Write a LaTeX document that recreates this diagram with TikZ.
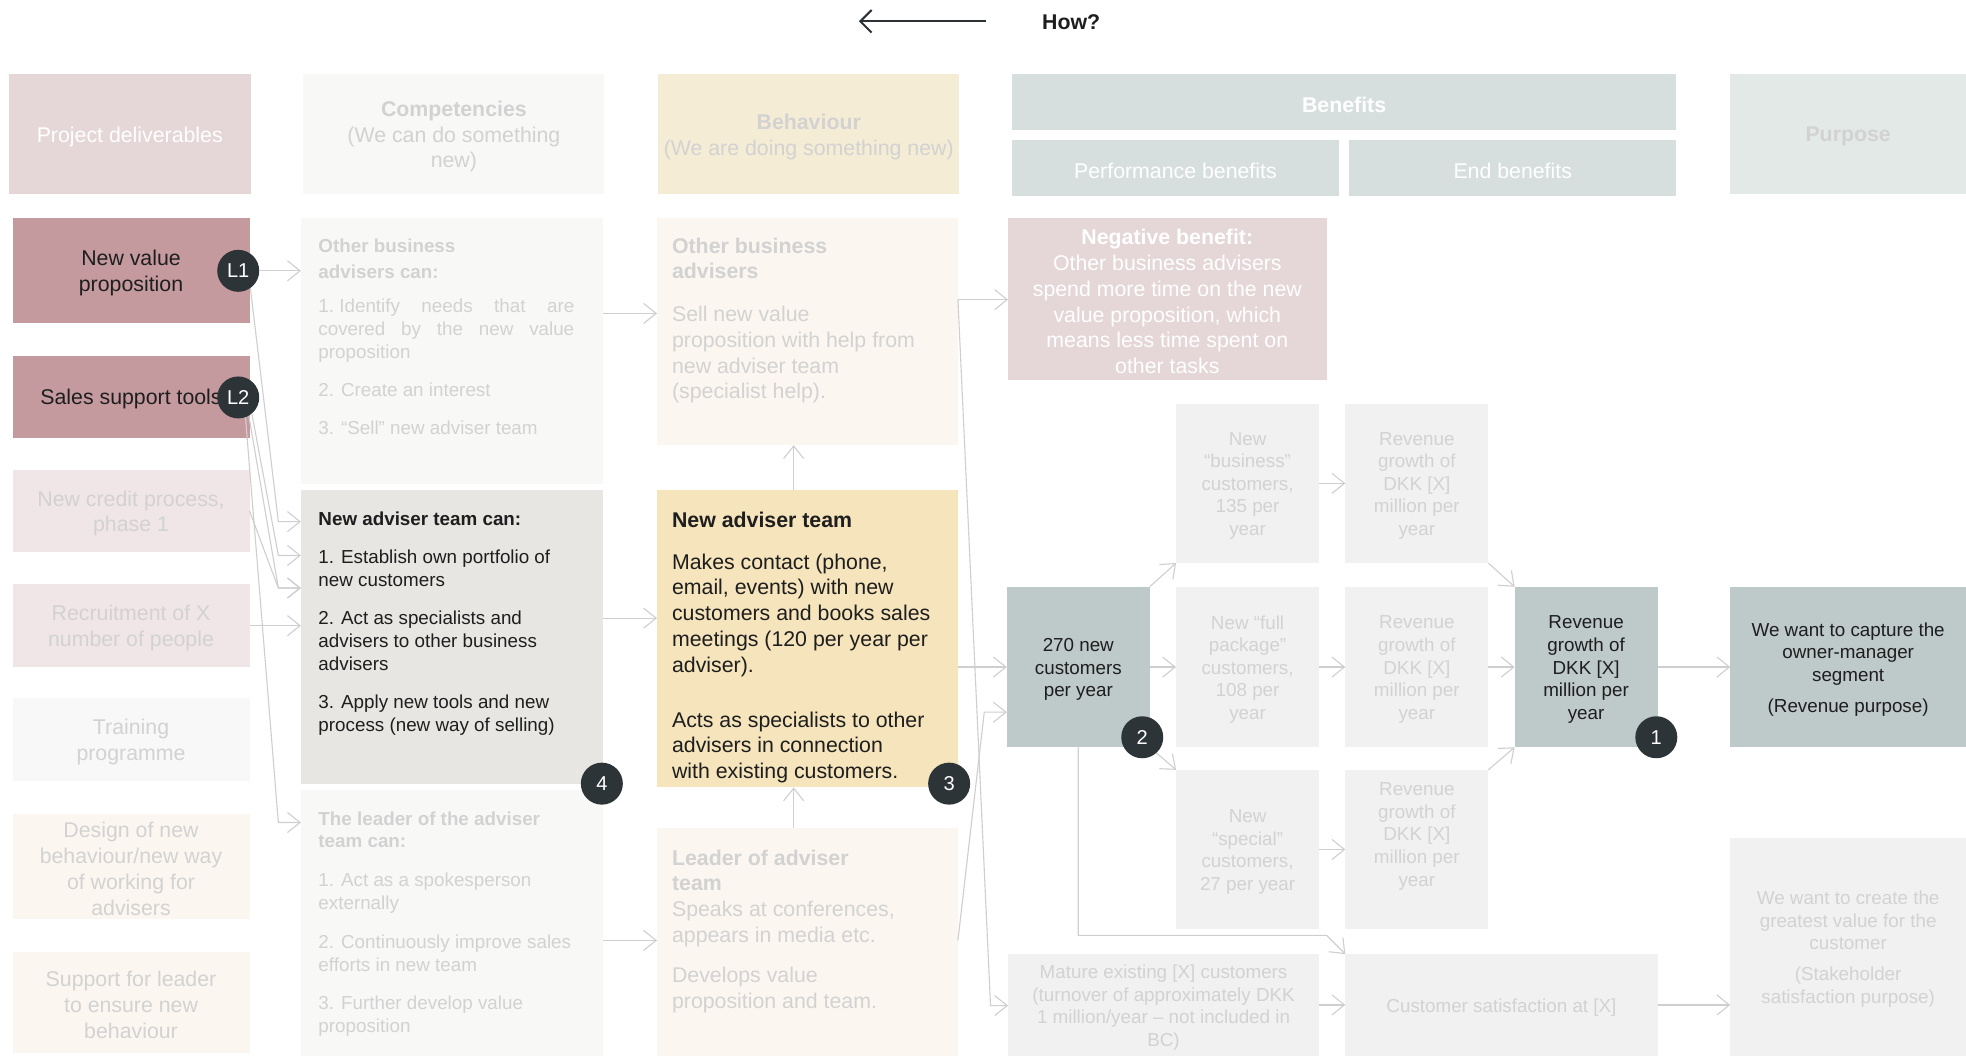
\documentclass[tikz,border=0pt]{standalone}
\usepackage{fontspec}
\setmainfont{Liberation Sans}
\usetikzlibrary{arrows.meta}
\definecolor{rose}{HTML}{C49A9E}
\definecolor{pinkhdr}{HTML}{E5D6D8}
\definecolor{pinklt}{HTML}{F0E6E7}
\definecolor{cream}{HTML}{FBF7F0}
\definecolor{yelhdr}{HTML}{F5ECD6}
\definecolor{yel}{HTML}{F5E4BC}
\definecolor{grydk}{HTML}{E8E6E3}
\definecolor{grylt}{HTML}{F8F8F7}
\definecolor{trng}{HTML}{F8F8F8}
\definecolor{benhdr}{HTML}{D7DEDE}
\definecolor{purhdr}{HTML}{E3E9E7}
\definecolor{tealbx}{HTML}{BEC9C9}
\definecolor{benlt}{HTML}{F0F1F0}
\definecolor{badgec}{HTML}{2D3438}
\definecolor{lineg}{HTML}{CFCFCF}
\definecolor{fade}{HTML}{D2D2D2}
\definecolor{ink}{HTML}{1E1E1E}
\definecolor{howc}{HTML}{2B3135}
\newcommand\fsBig{\fontsize{17}{20.5}\selectfont}
\newcommand\fsSm{\fontsize{15}{18.3}\selectfont}
\newcommand\fsBen{\fontsize{15}{18}\selectfont}
% box node (named, filled) plus its centred text, nudged down slightly
\newcommand\mybox[7]{%
  \node[#6,minimum width={#4pt-#2pt},minimum height={#5pt-#3pt}] (#1) at ({(#2+#4)/2},{(#3+#5)/2}) {};
  \node[#6,fill=none] (#1-t) at ({(#2+#4)/2},{(#3+#5)/2+2}) {#7};}
\begin{document}
\begin{tikzpicture}[x=1pt,y=-1pt,
  bx/.style={rectangle,inner sep=0pt,outer sep=0pt,align=center},
  big/.style={bx,font=\fsBig},
  ben/.style={bx,fill=benlt,text=fade,font=\fsBen},
  tl/.style={anchor=north west,align=left,inner sep=0pt,outer sep=0pt},
  conn/.style={draw=lineg,line width=0.9pt,-{Straight Barb[length=10pt,width=16pt,line width=0.9pt]}},
  badge/.style={circle,fill=badgec,minimum size=33.5pt,inner sep=0pt,text=white,font=\fontsize{16}{16}\selectfont}]
\useasboundingbox (0,0) rectangle (1568,842);

% top
\node[font=\fontsize{17}{17}\selectfont\bfseries,text=ink,anchor=west,inner sep=0pt] (how) at (831,18) {How?};
\coordinate (howS) at (786,17);
\coordinate (howE) at (685,17);
\draw[howc,line width=1.6pt,-{Straight Barb[length=9pt,width=18pt,line width=1.6pt]}] (howS) -- (howE);

% headers
\mybox{hPD}{7}{59}{200}{155}{big,fill=pinkhdr,text=white}{Project deliverables}
\mybox{hComp}{242}{59}{482}{155}{big,fill=grylt,text=fade}{{\bfseries Competencies}\\(We can do something\\new)}
\mybox{hBeh}{525}{59}{765}{155}{big,fill=yelhdr,text=fade}{{\bfseries Behaviour}\\(We are doing something new)}
\mybox{hBen}{807}{59}{1337}{104}{big,fill=benhdr,text=white}{\bfseries Benefits}
\mybox{hPerf}{807}{112}{1068}{156}{big,fill=benhdr,text=white}{Performance benefits}
\mybox{hEnd}{1076}{112}{1337}{156}{big,fill=benhdr,text=white}{End benefits}
\mybox{hPur}{1380}{59}{1568}{155}{big,fill=purhdr,text=fade}{\bfseries Purpose}

% column 1
\mybox{nvp}{10}{174}{199}{258}{big,fill=rose,text=ink}{New value\\proposition}
\mybox{sst}{10}{284}{199}{349}{big,fill=rose,text=ink}{Sales support tools}
\mybox{ncp}{10}{375}{199}{440}{big,fill=pinklt,text=fade}{New credit process,\\phase 1}
\mybox{rec}{10}{466}{199}{532}{big,fill=pinklt,text=fade}{Recruitment of X\\number of people}
\mybox{trn}{10}{557}{199}{623}{big,fill=trng,text=fade}{Training\\programme}
\mybox{des}{10}{649}{199}{733}{big,fill=cream,text=fade}{Design of new\\behaviour/new way\\of working for\\advisers}
\mybox{sup}{10}{759}{199}{840}{big,fill=cream,text=fade}{Support for leader\\to ensure new\\behaviour}

% column 2
\mybox{c2a}{240}{174}{481}{386}{bx,fill=grylt}{}
\mybox{c2b}{240}{391}{481}{625}{bx,fill=grydk}{}
\mybox{c2c}{240}{630}{481}{842}{bx,fill=grylt}{}
\node[tl,font=\fsSm,text=fade] (c2at) at (254,188.2) {\strut{\bfseries Other business}\\[2.7pt]{\bfseries advisers can:}\\[8.7pt]\hbox to 204pt{1.~Identify\hfill needs\hfill that\hfill are}\\\hbox to 204pt{covered\hfill by\hfill the\hfill new\hfill value}\\proposition\\[12.7pt]2. Create an interest\\[11.7pt]3. “Sell” new adviser team};
\node[tl,font=\fsSm,text=ink] (c2bt) at (254,406.2) {\strut{\bfseries New adviser team can:}\\[12pt]1. Establish own portfolio of\\new customers\\[12pt]2. Act as specialists and\\advisers to other business\\advisers\\[12pt]3. Apply new tools and new\\process (new way of selling)};
\node[tl,font=\fsSm,text=fade] (c2ct) at (254,645.2) {\strut{\bfseries The leader of the adviser}\\{\bfseries team can:}\\[12.7pt]1. Act as a spokesperson\\externally\\[12.7pt]2. Continuously improve sales\\efforts in new team\\[11.7pt]3. Further develop value\\proposition};

% column 3
\mybox{c3a}{524}{174}{764}{355}{bx,fill=cream}{}
\mybox{c3b}{524}{391}{764}{628}{bx,fill=yel}{}
\mybox{c3c}{524}{660}{764}{842}{bx,fill=cream}{}
\node[tl,font=\fsBig,text=fade] (c3at) at (536,187.65) {\strut{\bfseries Other business}\\{\bfseries advisers}\\[13.5pt]Sell new value\\proposition with help from\\new adviser team\\(specialist help).};
\node[tl,font=\fsBig,text=ink] (c3bt) at (536,406.65) {\strut{\bfseries New adviser team}\\[12.5pt]Makes contact (phone,\\email, events) with new\\customers and books sales\\meetings (120 per year per\\adviser).\\[23.5pt]Acts as specialists to other\\advisers in connection\\with existing customers.};
\node[tl,font=\fsBig,text=fade] (c3ct) at (536,675.65) {\strut{\bfseries Leader of adviser}\\{\bfseries team}\\Speaks at conferences,\\appears in media etc.\\[11.5pt]Develops value\\proposition and team.};

% benefits
\mybox{neg}{804}{174}{1058}{303}{big,fill=pinkhdr,text=white}{{\bfseries Negative benefit:}\\Other business advisers\\spend more time on the new\\value proposition, which\\means less time spent on\\other tasks}
\mybox{n270}{803}{468}{917}{596}{bx,fill=tealbx,text=ink,font=\fsBen}{270 new\\customers\\per year}
\mybox{nb}{938}{322}{1052}{449}{ben}{New\\“business”\\customers,\\135 per\\year}
\mybox{nf}{938}{468}{1052}{596}{ben}{New “full\\package”\\customers,\\108 per\\year}
\mybox{ns}{938}{614}{1052}{741}{ben}{New\\“special”\\customers,\\27 per year}
\mybox{r1}{1073}{322}{1187}{449}{ben}{Revenue\\growth of\\DKK [X]\\million per\\year}
\mybox{r2}{1073}{468}{1187}{596}{ben}{Revenue\\growth of\\DKK [X]\\million per\\year}
\mybox{r3}{1073}{614}{1187}{741}{ben}{Revenue\\growth of\\DKK [X]\\million per\\year\\[10pt]\mbox{}}
\mybox{rev}{1208}{468}{1322}{596}{bx,fill=tealbx,text=ink,font=\fsBen}{Revenue\\growth of\\DKK [X]\\million per\\year}
\mybox{cap}{1380}{468}{1568}{596}{bx,fill=tealbx,text=ink,font=\fsBen}{We want to capture the\\owner-manager\\segment\\[7pt](Revenue purpose)}
\mybox{mat}{804}{761}{1052}{842}{ben}{Mature existing [X] customers\\(turnover of approximately DKK\\1 million/year – not included in\\BC)}
\mybox{csat}{1073}{761}{1322}{842}{ben}{Customer satisfaction at [X]}
\mybox{gv}{1380}{668}{1568}{842}{ben}{We want to create the\\greatest value for the\\customer\\[7pt](Stakeholder\\satisfaction purpose)}

% L badges
\node[badge] (L1) at (190,216) {L1};
\node[badge] (L2) at (190,317) {L2};

% connectors
\draw[conn] (L1.east) -- (c2a.west |- L1.east);
\draw[conn] (L1.-55) -- (222,416) -- (c2b.west |- 0,416);
\draw[conn] (L2.-50) -- (222,443) -- (c2b.west |- 0,443);
\draw[conn] (L2.-60) -- (222,469) -- (c2b.west |- 0,469);
\draw[conn] (ncp.east) -- (222,469) -- (c2b.west |- 0,469);
\draw[conn] (rec.east) -- (c2b.west |- rec.east);
\draw[conn] (L2.-70) -- (222,656) -- (c2c.west |- 0,656);
\draw[conn] (c2a.east |- 0,250) -- (c3a.west |- 0,250);
\draw[conn] (c2b.east |- 0,493) -- (c3b.west |- 0,493);
\draw[conn] (c2c.east |- 0,750) -- (c3c.west |- 0,750);
\draw[conn] (c3b.north -| 633,0) -- (c3a.south -| 633,0);
\draw[conn] (c3c.north -| 633,0) -- (c3b.south -| 633,0);
\draw[conn] (c3a.east |- 0,239) -- (neg.west |- 0,239);
\draw[conn] (c3a.east |- 0,239) -- (790,802) -- (mat.west |- 0,802);
\draw[conn] (c3b.east |- 0,532) -- (n270.west |- 0,532);
\draw[conn] (c3c.east |- 0,750) -- (785,568) -- (n270.west |- 0,568);
\draw[conn] (n270.north east) -- (nb.south west);
\draw[conn] (n270.east) -- (nf.west);
\draw[conn] (n270.south east) -- (ns.north west);
\draw[conn] (n270.south) -- (n270.south |- 0,746) -- (1058,746) -- (csat.north west);
\draw[conn] (nb.east) -- (r1.west);
\draw[conn] (nf.east) -- (r2.west);
\draw[conn] (ns.east) -- (r3.west);
\draw[conn] (r1.south east) -- (rev.north west);
\draw[conn] (r2.east) -- (rev.west);
\draw[conn] (r3.north east) -- (rev.south west);
\draw[conn] (rev.east) -- (cap.west);
\draw[conn] (mat.east) -- (csat.west);
\draw[conn] (csat.east) -- (gv.west |- csat.east);

% number badges
\node[badge] (b4) at (480,625) {4};
\node[badge] (b3) at (757,625) {3};
\node[badge] (b2) at (911,588) {2};
\node[badge] (b1) at (1321,588) {1};
\end{tikzpicture}
\end{document}
